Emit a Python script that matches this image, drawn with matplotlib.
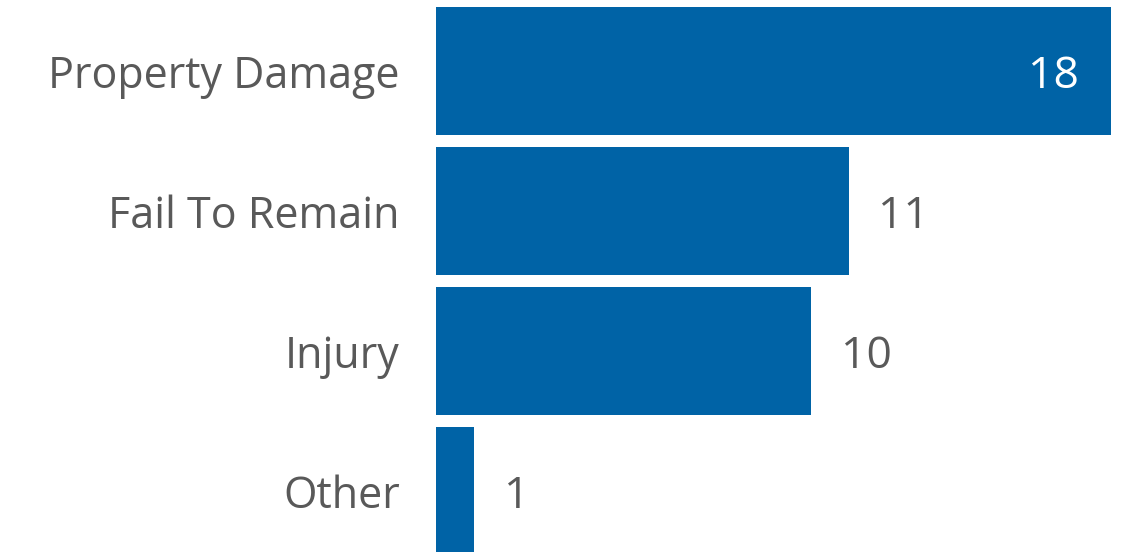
import matplotlib
matplotlib.use("Agg")
import matplotlib.pyplot as plt

# Data
categories = ["Property Damage", "Fail To Remain", "Injury", "Other"]
values = [18, 11, 10, 1]

bar_color = "#0063A6"
text_color = "#595959"
plt.rcParams['font.family'] = ['Open Sans', 'DejaVu Sans']

W, H, dpi = 1133, 552, 100
fig = plt.figure(figsize=(W / dpi, H / dpi), dpi=dpi)
ax = fig.add_axes([436 / W, 0, (1111 - 436) / W, 1])

pos = list(range(len(categories)))
ax.barh(pos, values, height=128 / 140, color=bar_color)

ax.set_xlim(0, 18)
ax.set_ylim((H - 71) / 140, -71 / 140)

ax.set_yticks(pos)
ax.set_yticklabels(categories, fontsize=31, color=text_color, va='center_baseline')
ax.tick_params(axis='y', length=0, pad=26)
ax.set_xticks([])
for s in ax.spines.values():
    s.set_visible(False)

# value labels: inside the longest bar, outside for the others
vmax = max(values)
for p, v in zip(pos, values):
    if v == vmax:
        ax.annotate(str(v), (v, p), xytext=(-32, 0), textcoords='offset pixels',
                    ha='right', va='center_baseline', fontsize=32, color='white')
    else:
        ax.annotate(str(v), (v, p), xytext=(30, 0), textcoords='offset pixels',
                    ha='left', va='center_baseline', fontsize=32, color=text_color)

fig.savefig("out.png", dpi=dpi)
